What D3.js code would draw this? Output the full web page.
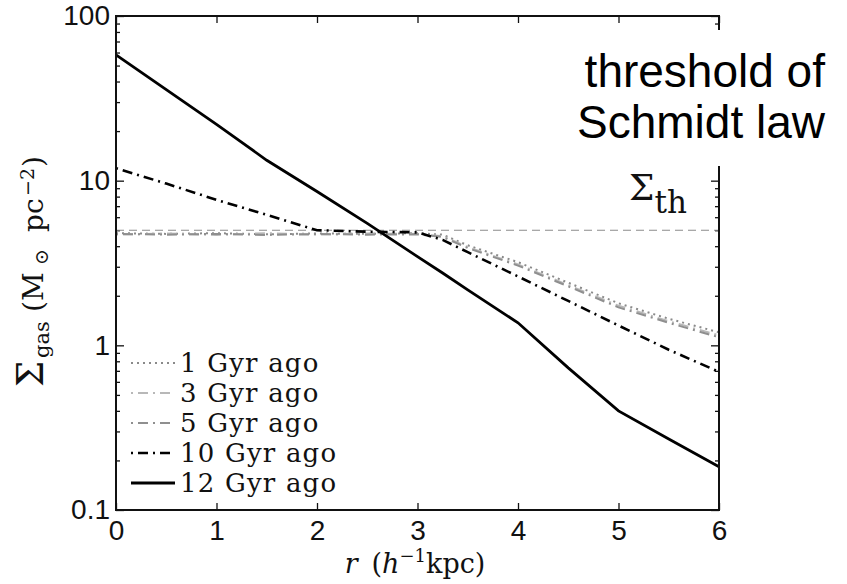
<!DOCTYPE html>
<head>
<meta charset="utf-8">
<title>Gas surface density</title>
<style>
body { margin: 0; background: #fff; }
.tick text { font-family: "Liberation Sans", Arial, sans-serif; font-size: 28px; fill: #111; }
.serif { font-family: "DejaVu Serif", "Liberation Serif", serif; fill: #111; }
</style>
<script src="https://d3js.org/d3.v7.min.js"></script>
</head>
<body>
<script>
// data (r in h^-1 kpc, Sigma_gas in Msun pc^-2)
var radius = [0, 0.5, 1, 1.5, 2, 2.5, 3, 3.25, 3.5, 4, 4.5, 5, 5.5, 6];
var gyr1  = [4.8, 4.75, 4.8, 4.72, 4.78, 4.75, 4.8, 4.7, 4.05, 3.2, 2.4, 1.8, 1.45, 1.2];
var gyr3  = [4.7, 4.78, 4.68, 4.8, 4.7, 4.78, 4.75, 4.6, 3.95, 3.1, 2.32, 1.74, 1.4, 1.15];
var gyr5  = [4.75, 4.7, 4.75, 4.68, 4.74, 4.7, 4.72, 4.55, 3.9, 3.05, 2.28, 1.7, 1.37, 1.12];
var gyr10 = [11.9, 9.6, 7.65, 6.2, 5.0, 4.9, 4.85, 4.37, 3.68, 2.62, 1.86, 1.32, 0.94, 0.69];
var gyr12 = [58, 35.7, 22, 13.3, 8.6, 5.5, 3.46, 2.75, 2.17, 1.37, 0.73, 0.40, 0.27, 0.183];
var threshold = 5;
var seriesNames = ["1 Gyr ago", "3 Gyr ago", "5 Gyr ago", "10 Gyr ago", "12 Gyr ago"];
var xTicks = [0, 1, 2, 3, 4, 5, 6];
var yTicks = [0.1, 1, 10, 100];
var yTickLabels = ["0.1", "1", "10", "100"];

var width = 847, height = 584,
    margin = { top: 16, right: 128, bottom: 74, left: 116 },
    w = width - margin.left - margin.right,
    h = height - margin.top - margin.bottom;

var xScale = d3.scaleLinear().domain([0, 6]).range([0, w]);
var yScale = d3.scaleLog().domain([0.1, 100]).range([h, 0]);

var svg = d3.select("body").append("svg")
    .attr("width", width)
    .attr("height", height);

var g = svg.append("g")
    .attr("transform", "translate(" + margin.left + "," + margin.top + ")");

// line styles for each series
var styles = [
  { values: gyr1,  stroke: "#8a8a8a", width: 2,   dash: "2,4" },
  { values: gyr3,  stroke: "#b8b8b8", width: 2,   dash: "2,5,10,5" },
  { values: gyr5,  stroke: "#8f8f8f", width: 2,   dash: "2,5,10,5" },
  { values: gyr10, stroke: "#000",    width: 2.6, dash: "2,5,10,5" },
  { values: gyr12, stroke: "#000",    width: 2.8, dash: null }
];

// minor log ticks
var minor = [];
[0.1, 1, 10].forEach(function(d) {
  for (var k = 2; k <= 9; k++) minor.push(d * k);
});

// axes, ticks pointing inward
g.append("g")
    .attr("transform", "translate(0," + h + ")")
    .call(d3.axisBottom(xScale).tickValues(xTicks).tickFormat(d3.format("d"))
      .tickSizeInner(-7).tickSizeOuter(0).tickPadding(10))
    .call(function(a) { a.select(".domain").remove(); });

g.append("g")
    .call(d3.axisTop(xScale).tickValues(xTicks).tickFormat("")
      .tickSizeInner(-7).tickSizeOuter(0))
    .call(function(a) { a.select(".domain").remove(); });

g.append("g")
    .call(d3.axisLeft(yScale).tickValues(yTicks)
      .tickFormat(function(d, i) { return yTickLabels[i]; })
      .tickSizeInner(-8).tickSizeOuter(0).tickPadding(6))
    .call(function(a) { a.select(".domain").remove(); });

g.append("g")
    .call(d3.axisLeft(yScale).tickValues(minor).tickFormat("")
      .tickSizeInner(-4).tickSizeOuter(0))
    .call(function(a) { a.select(".domain").remove(); });

g.append("g")
    .attr("transform", "translate(" + w + ",0)")
    .call(d3.axisRight(yScale).tickValues(yTicks).tickFormat("")
      .tickSizeInner(-8).tickSizeOuter(0))
    .call(function(a) { a.select(".domain").remove(); });

g.append("g")
    .attr("transform", "translate(" + w + ",0)")
    .call(d3.axisRight(yScale).tickValues(minor).tickFormat("")
      .tickSizeInner(-4).tickSizeOuter(0))
    .call(function(a) { a.select(".domain").remove(); });

g.selectAll(".tick line").attr("stroke", "#111").attr("stroke-width", 1.3);

// threshold line
g.append("line")
    .attr("x1", xScale(0)).attr("x2", xScale(6))
    .attr("y1", yScale(threshold)).attr("y2", yScale(threshold))
    .attr("stroke", "#8c8c8c")
    .attr("stroke-width", 1.2)
    .attr("stroke-dasharray", "8,5");

var line = d3.line()
    .x(function(d, i) { return xScale(radius[i]); })
    .y(function(d) { return yScale(d); });

g.selectAll(".series")
    .data(styles)
    .enter().append("path")
    .attr("class", "series")
    .attr("fill", "none")
    .attr("d", function(d) { return line(d.values); })
    .attr("stroke", function(d) { return d.stroke; })
    .attr("stroke-width", function(d) { return d.width; })
    .attr("stroke-dasharray", function(d) { return d.dash; });

// frame
g.append("rect")
    .attr("width", w).attr("height", h)
    .attr("fill", "none")
    .attr("stroke", "#111")
    .attr("stroke-width", 2);

// legend
var legend = g.selectAll(".legend")
    .data(styles)
    .enter().append("g")
    .attr("class", "legend")
    .attr("transform", function(d, i) { return "translate(15," + (347 + i * 30) + ")"; });

legend.append("line")
    .attr("x1", 0).attr("x2", 44)
    .attr("stroke", function(d) { return d.stroke; })
    .attr("stroke-width", function(d) { return d.width; })
    .attr("stroke-dasharray", function(d) { return d.dash; });

legend.append("text")
    .attr("class", "serif")
    .attr("x", 49)
    .attr("y", 9)
    .style("font-size", "26px")
    .style("letter-spacing", "1.2px")
    .text(function(d, i) { return seriesNames[i]; });

// Sigma_th label
var sth = g.append("text")
    .attr("class", "serif")
    .attr("x", 571)
    .attr("y", 184)
    .attr("text-anchor", "end");
sth.append("tspan").style("font-size", "36px").text("Σ");
sth.append("tspan").style("font-size", "31px").attr("dy", 13).text("th");

// axis titles
var xt = svg.append("text")
    .attr("class", "serif")
    .attr("x", 415)
    .attr("y", 573)
    .attr("text-anchor", "middle")
    .style("font-size", "27px");
xt.append("tspan").style("font-style", "italic").text("r");
xt.append("tspan").text("\u2009 (");
xt.append("tspan").style("font-style", "italic").text("h");
xt.append("tspan").attr("dy", -11).style("font-size", "18px").text("−1");
xt.append("tspan").attr("dy", 11).text("kpc)");

// y title pieces placed along the rotated baseline
var yt = svg.append("text")
    .attr("class", "serif")
    .attr("transform", "translate(43,263) rotate(-90)")
    .style("font-size", "28px");
yt.append("tspan").attr("x", -124).attr("y", 0).style("font-size", "37px").text("Σ");
yt.append("tspan").attr("x", -95).attr("y", 6).style("font-size", "21px").text("gas");
yt.append("tspan").attr("x", -49).attr("y", 0).text("(M");
yt.append("tspan").attr("x", -2).attr("y", 5).style("font-size", "19px").text("⊙");
yt.append("tspan").attr("x", 31).attr("y", 0).text("pc");
yt.append("tspan").attr("x", 67).attr("y", -9).style("font-size", "19px").text("−2");
yt.append("tspan").attr("x", 96).attr("y", 0).text(")");

// annotation box over the top right corner
svg.append("rect")
    .attr("x", 572).attr("y", 30)
    .attr("width", 275).attr("height", 136)
    .attr("fill", "#fff");

svg.append("text")
    .attr("x", 825).attr("y", 87)
    .attr("text-anchor", "end")
    .style("font-family", "Liberation Sans, Arial, sans-serif")
    .style("font-size", "46px")
    .text("threshold of");

svg.append("text")
    .attr("x", 825).attr("y", 138)
    .attr("text-anchor", "end")
    .style("font-family", "Liberation Sans, Arial, sans-serif")
    .style("font-size", "46px")
    .text("Schmidt law");
</script>
</body>
